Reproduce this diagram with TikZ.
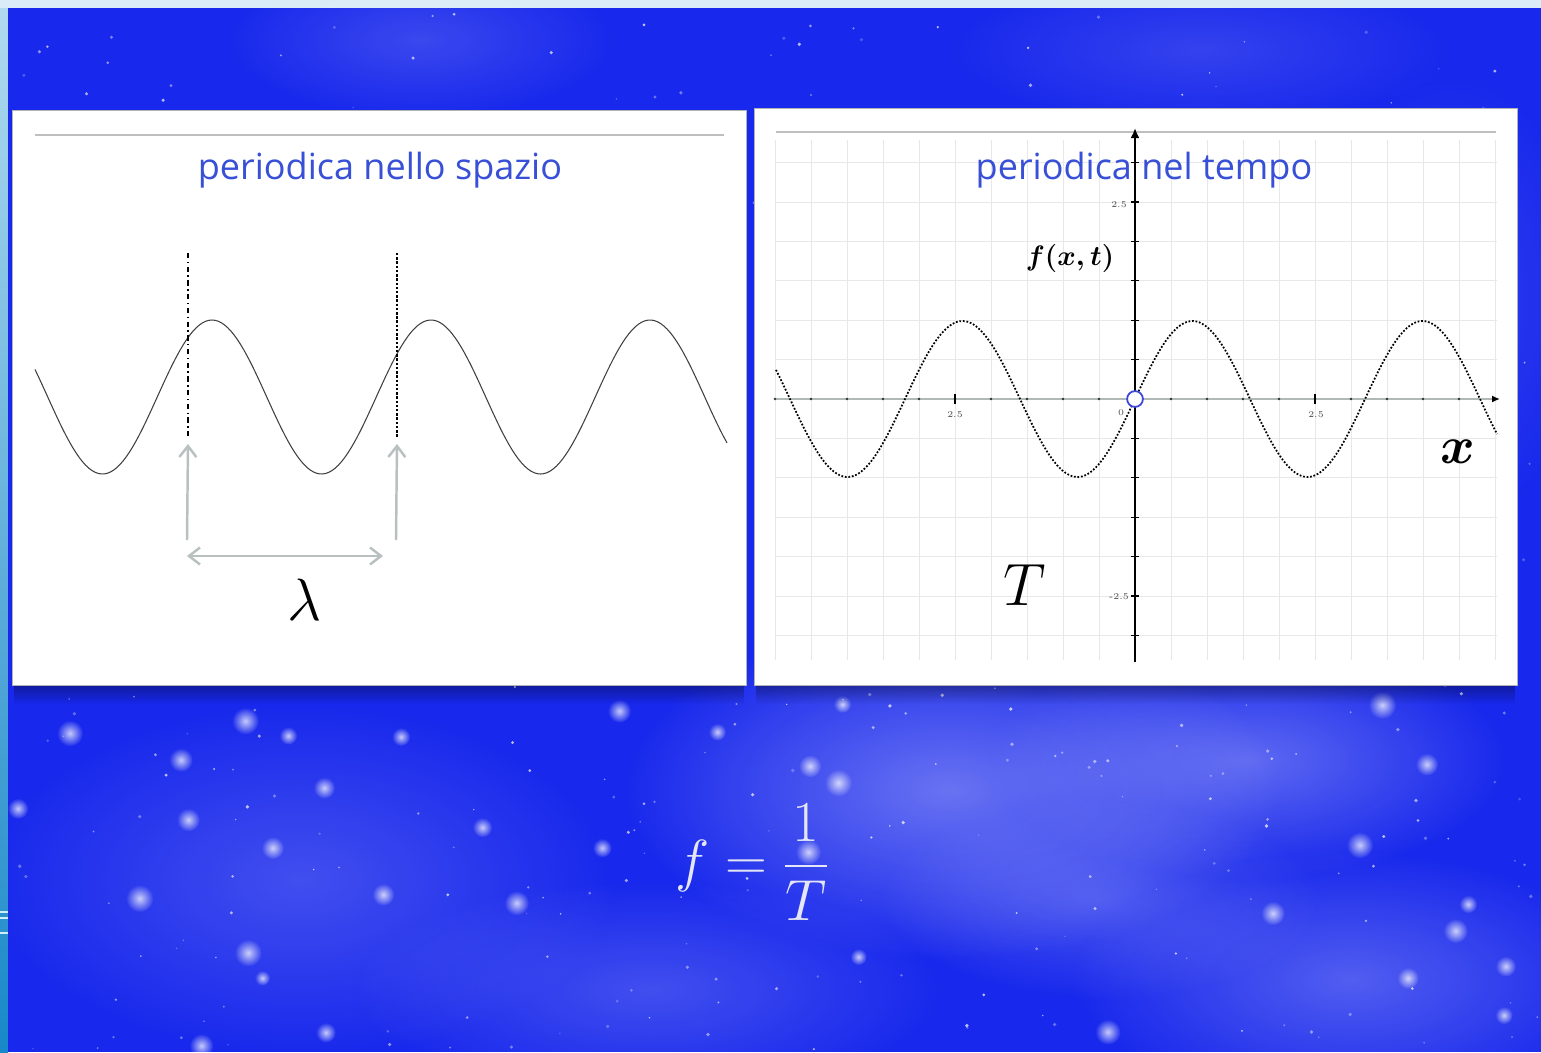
\documentclass[tikz,border=0pt]{standalone}
\usepackage{fix-cm}
\usepackage{amsmath}
\usepackage{fontspec}
\newfontfamily\titlefont{Open Sans}
\usetikzlibrary{arrows.meta,fadings}
\definecolor{skyblue}{RGB}{24,40,236}
\definecolor{titleblue}{RGB}{55,80,215}
\definecolor{guidegray}{RGB}{185,192,192}
\definecolor{originblue}{RGB}{60,70,220}
\definecolor{axisgray}{RGB}{176,184,184}
\definecolor{chalk}{RGB}{228,230,246}
\definecolor{frametop}{RGB}{218,236,247}
\definecolor{frameupper}{RGB}{176,218,240}
\definecolor{framelower}{RGB}{24,136,200}
\tikzfading[name=softglow, inner color=transparent!0, outer color=transparent!100]

\begin{document}
\begin{tikzpicture}[
  x=0.02cm,y=-0.02cm,
  panel/.style={fill=white, draw=black!30, line width=0.4pt},
  rule/.style={draw=black!25, line width=0.6pt},
  title/.style={font=\titlefont\fontsize{20.5}{24}\selectfont, text=titleblue},
  wave/.style={black!75, line width=0.6pt},
  gridline/.style={draw=black!9, line width=0.4pt},
  guide/.style={-{Straight Barb[length=2.2mm,width=3.4mm]}, draw=guidegray, line width=1.4pt},
  bigmath/.style={font=\fontsize{34}{38}\selectfont},
  ticklabel/.style={font=\fontsize{5}{6}\selectfont, text=black!70, inner sep=1pt},
  cloud/.style={white, path fading=softglow}
]
\useasboundingbox (0,0) rectangle (1541,1052);
\fill[frametop] (0,0) rectangle (1541,8);
\shade[top color=frameupper, bottom color=framelower] (0,8) rectangle (8,1052);
\fill[skyblue] (8,8) rectangle (1541,1052);
\foreach \y in {912,918,933}{\draw[white!80!cyan, line width=0.6pt] (0,\y) -- (8,\y);}

\foreach \cx/\cy/\rx/\ry/\op in {950/790/330/170/0.35, 1250/760/260/120/0.3, 300/880/320/180/0.18,
  1350/980/280/130/0.25, 650/990/300/110/0.18, 420/40/200/80/0.15, 1200/50/260/80/0.12,
  1450/300/150/240/0.1, 1100/900/220/100/0.2}{
  \fill[cloud, opacity=\op] (\cx,\cy) ellipse ({\rx} and {\ry});
}

\pgfmathsetseed{42}
\foreach \i in {1,...,450}{
  \pgfmathsetmacro\sx{10+1528*rnd}
  \pgfmathsetmacro\sy{10+1040*rnd}
  \pgfmathsetmacro\sr{0.7+1.2*rnd}
  \pgfmathsetmacro\so{0.2+0.55*rnd}
  \fill[white, opacity=\so] (\sx,\sy) circle[radius=\sr];
}
\foreach \i in {1,...,35}{
  \pgfmathsetmacro\sx{10+1528*rnd}
  \pgfmathsetmacro\sy{700+350*rnd}
  \pgfmathsetmacro\sr{7+7*rnd}
  \fill[cloud, opacity=0.75] (\sx,\sy) circle[radius=\sr];
}

\fill[black, opacity=0.35, path fading=south] (14,684) rectangle (744,704);
\fill[black, opacity=0.35, path fading=south] (756,684) rectangle (1515,704);
\draw[panel] (12,110) rectangle (746,685);
\draw[panel] (754,108) rectangle (1517,685);

\draw[rule] (35,135) -- (724,135);
\node[title] (spacetitle) at (380,170) {periodica nello spazio};
\draw[wave] plot[domain=35:727, samples=220] (\x,{397-77*cos((\x-212)/219*360)});
\coordinate (startTop) at (188,253);
\coordinate (startBot) at (188,437);
\coordinate (endTop) at (397,253);
\coordinate (endBot) at (397,437);
\draw[black, line width=0.8pt, dash dot] (startTop) -- (startBot);
\draw[black, line width=1.4pt, densely dotted] (endTop) -- (endBot);
\coordinate (footA) at (187,540);
\coordinate (footB) at (396,540);
\draw[guide] (footA) -- ([yshift=-4]startBot);
\draw[guide] (footB) -- ([yshift=-4]endBot);
\coordinate (spanL) at (187,556);
\coordinate (spanR) at (383,556);
\draw[guide, {Straight Barb[length=2.2mm,width=3.4mm]}-{Straight Barb[length=2.2mm,width=3.4mm]}] (spanL) -- (spanR);
\node[bigmath] (lambda) at (305,600) {$\lambda$};

\draw[gridline] foreach \k in {-10,...,10} {({1135+36*\k},140) -- ({1135+36*\k},660)};
\draw[gridline] foreach \k in {-6,...,6} {(776,{399+39.4*\k}) -- (1497,{399+39.4*\k})};
\draw[rule] (776,132) -- (1496,132);
\node[title] (timetitle) at (1144,170) {periodica nel tempo};
\draw[axisgray, line width=1pt, -{Latex[length=1.6mm,width=1.4mm,color=black]}] (776,399) -- (1500,399);
\foreach \k in {-10,...,9}{\fill[black!80] ({1135+36*\k},399) circle[radius=1.3];}
\foreach \k in {-5,5}{\draw[black, line width=1pt] ({1135+36*\k},394) -- ({1135+36*\k},404);}
\draw[black, line width=1.4pt, -{Latex[length=2mm,width=1.8mm]}] (1135,662) -- (1135,128);
\foreach \k in {-6,...,6}{\draw[black, line width=0.6pt] (1131,{399+39.4*\k}) -- (1139,{399+39.4*\k});}
\node[ticklabel] (xtickA) at (955,415) {2.5};
\node[ticklabel] (xtickB) at (1316,415) {2.5};
\node[ticklabel] (xtickO) at (1121,413) {0};
\node[ticklabel] (ytickA) at (1119,205) {2.5};
\node[ticklabel] (ytickB) at (1119,597) {-2.5};
\draw[black, line width=1pt, densely dotted] plot[domain=776:1497, samples=260] (\x,{399-78*sin((\x-1135)/230*360)});
\node[draw=originblue, fill=white, circle, line width=1pt, inner sep=0pt, minimum size=9pt] (origin) at (1135,399) {};
\node[font=\fontsize{16}{19}\selectfont] (fxt) at (1070,258) {$\boldsymbol{f(x,t)}$};
\node[font=\fontsize{30}{34}\selectfont] (xlabel) at (1458,452) {$\boldsymbol{x}$};
\node[bigmath] (period) at (1025,585) {$T$};

\node[text=chalk, font=\fontsize{33}{38}\selectfont] (freq) at (752,862) {$\displaystyle f=\frac{1}{T}$};
\end{tikzpicture}
\end{document}
